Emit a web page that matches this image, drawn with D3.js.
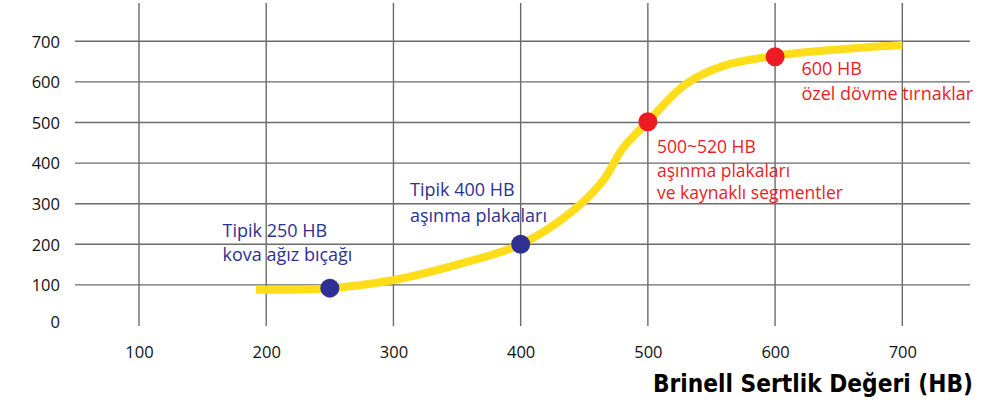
<!DOCTYPE html>
<html lang="tr">
<head>
<meta charset="utf-8">
<style>
  body { margin: 0; background: #fff; }
  svg { display: block; }
</style>
</head>
<body>
<svg id="chart"></svg>
<script src="https://d3js.org/d3.v7.min.js"></script>
<script>
    // data
    var xTicks = [100, 200, 300, 400, 500, 600, 700];
    var yTicks = [0, 100, 200, 300, 400, 500, 600, 700];
    var curveHB = [192, 250, 300, 350, 400, 440, 465, 480, 500, 530, 560, 600, 650, 700];
    var curveVal = [88, 92, 112, 150, 200, 280, 358, 435, 502, 595, 640, 664, 680, 691];
    var pointHB = [250, 400, 500, 600];
    var pointVal = [92, 200, 502, 662];
    var pointGroup = ["blue", "blue", "red", "red"];
    var labels = [
        ["Tipik 250 HB", "kova ağız bıçağı"],
        ["Tipik 400 HB", "aşınma plakaları"],
        ["500~520 HB", "aşınma plakaları", "ve kaynaklı segmentler"],
        ["600 HB", "özel dövme tırnaklar"]
    ];
    var xTitle = "Brinell Sertlik Değeri (HB)";

    var width = 1007, height = 404;
    var colors = {blue: "#2e3192", red: "#ed1c24"};

    var svg = d3.select("#chart").attr("width", width).attr("height", height);

    var x = d3.scaleLinear().domain([100, 700]).range([139, 902.3]);
    var y = d3.scaleLinear().domain([0, 700]).range([325.5, 41.3]);

    // grid
    var grid = svg.append("g");
    grid.selectAll("line.v")
        .data(xTicks)
        .enter().append("line")
        .attr("x1", function (d) { return x(d); })
        .attr("x2", function (d) { return x(d); })
        .attr("y1", 3)
        .attr("y2", 326)
        .attr("stroke", "#6b6b6b")
        .attr("stroke-width", 1.4);
    grid.selectAll("line.h")
        .data(yTicks.filter(function (d) { return d > 0; }))
        .enter().append("line")
        .attr("x1", 75)
        .attr("x2", 970)
        .attr("y1", function (d) { return y(d); })
        .attr("y2", function (d) { return y(d); })
        .attr("stroke", "#6b6b6b")
        .attr("stroke-width", 1.4);

    // axis labels
    var yAxis = d3.axisLeft(y).tickValues(yTicks).tickSize(0).tickPadding(0);
    var yg = svg.append("g").attr("transform", "translate(60,0)").call(yAxis);
    yg.select(".domain").remove();
    yg.selectAll("text")
        .attr("font-family", "'Open Sans', sans-serif")
        .attr("font-size", "16.5px")
        .attr("fill", "#111")
        .attr("dy", "0.35em");
    yg.selectAll(".tick").filter(function (d) { return d === 0; })
        .select("text").attr("dy", "0.15em");

    var xAxis = d3.axisBottom(x).tickValues(xTicks).tickSize(0).tickPadding(0);
    var xg = svg.append("g").attr("transform", "translate(0,346)").call(xAxis);
    xg.select(".domain").remove();
    xg.selectAll("text")
        .attr("font-family", "'Open Sans', sans-serif")
        .attr("font-size", "16.5px")
        .attr("fill", "#111");

    // curve
    var line = d3.line()
        .x(function (d) { return x(d[0]); })
        .y(function (d) { return y(d[1]); })
        .curve(d3.curveCatmullRom.alpha(0.5));
    svg.append("path")
        .attr("d", line(d3.zip(curveHB, curveVal)))
        .attr("fill", "none")
        .attr("stroke", "#ffdd1a")
        .attr("stroke-width", 8);

    // points
    svg.selectAll("circle")
        .data(d3.range(pointHB.length))
        .enter().append("circle")
        .attr("cx", function (i) { return x(pointHB[i]); })
        .attr("cy", function (i) { return y(pointVal[i]); })
        .attr("r", 9.5)
        .attr("fill", function (i) { return colors[pointGroup[i]]; });

    // annotations
    var labelPos = [[222.5, 236.5, 24], [410, 196, 25.5], [657, 153, 24, 22], [801.5, 75, 25]];
    labels.forEach(function (lines, i) {
        var p = labelPos[i];
        var t = svg.append("text")
            .attr("font-family", "'Open Sans', sans-serif")
            .attr("font-size", i === 2 ? "17.5px" : "18px")
            .attr("fill", colors[pointGroup[i]]);
        var yy = p[1];
        lines.forEach(function (s, k) {
            if (k > 0) yy += (k === 2 && p[3]) ? p[3] : p[2];
            t.append("tspan").attr("x", p[0]).attr("y", yy).text(s);
        });
    });

    // x title
    svg.append("text")
        .attr("x", 653)
        .attr("y", 391.5)
        .attr("font-family", "'DejaVu Sans', sans-serif")
        .attr("font-weight", "bold")
        .attr("font-size", "24px")
        .attr("textLength", 320)
        .attr("lengthAdjust", "spacingAndGlyphs")
        .attr("fill", "#000")
        .text(xTitle);
</script>
</body>
</html>
